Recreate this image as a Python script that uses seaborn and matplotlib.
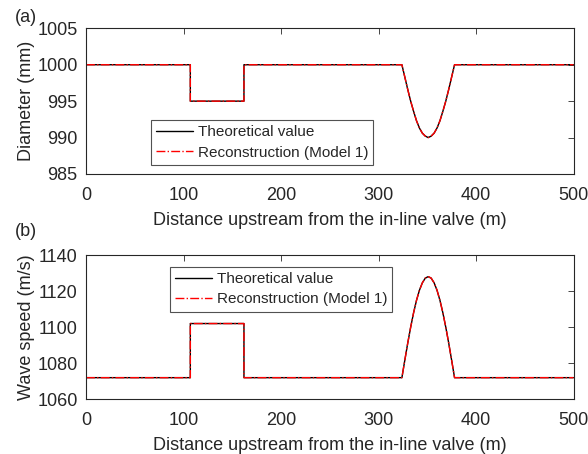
import numpy as np
import pandas as pd
import seaborn as sns
import matplotlib
matplotlib.use("Agg")
import matplotlib.pyplot as plt

sns.set_style("white")
plt.rcParams['font.family'] = ['Liberation Sans', 'DejaVu Sans']

# ---- data ----
distance = [0, 107, 107, 162, 162, 324, 327, 330, 333, 336, 339, 342, 345, 348, 351,
            354, 357, 360, 363, 366, 369, 372, 375, 378, 500]
diam_theory = [1000, 1000, 995, 995, 1000, 1000, 998.3, 996.6, 995.0, 993.6, 992.3, 991.3,
               990.6, 990.2, 990.0, 990.2, 990.6, 991.3, 992.3, 993.6, 995.0, 996.6,
               998.3, 1000, 1000]
diam_recon = [1000, 1000, 995, 995, 1000, 1000, 998.3, 996.6, 995.0, 993.6, 992.3, 991.3,
              990.6, 990.2, 990.0, 990.2, 990.6, 991.3, 992.3, 993.6, 995.0, 996.6,
              998.3, 1000, 1000]
wave_theory = [1072, 1072, 1102, 1102, 1072, 1072, 1081.7, 1091.2, 1100.0, 1108.0, 1114.9,
               1120.5, 1124.6, 1127.2, 1128, 1127.2, 1124.6, 1120.5, 1114.9, 1108.0,
               1100.0, 1091.2, 1081.7, 1072, 1072]
wave_recon = [1072, 1072, 1102, 1102, 1072, 1072, 1081.7, 1091.2, 1100.0, 1108.0, 1114.9,
              1120.5, 1124.6, 1127.2, 1128, 1127.2, 1124.6, 1120.5, 1114.9, 1108.0,
              1100.0, 1091.2, 1081.7, 1072, 1072]

x_ticks = [0, 100, 200, 300, 400, 500]
diam_ticks = [985, 990, 995, 1000, 1005]
wave_ticks = [1060, 1080, 1100, 1120, 1140]
labels = ["Theoretical value", "Reconstruction (Model 1)"]
xlabel = "Distance upstream from the in-line valve (m)"

W, H = 588, 454
fig = plt.figure(figsize=(W / 100, H / 100), dpi=100)
ax1 = fig.add_axes([86 / W, 1 - 174 / H, (573.5 - 86) / W, (174 - 28.3) / H])
ax2 = fig.add_axes([86 / W, 1 - 399.3 / H, (573.5 - 86) / W, (399.3 - 255) / H])

axc = '#262626'
fs = 13

def style(ax, yticks, ylabel):
    ax.set_xlim(0, 500)
    ax.set_ylim(yticks[0], yticks[-1])
    ax.set_xticks(x_ticks)
    ax.set_yticks(yticks)
    ax.tick_params(direction='in', length=4, width=0.6, colors=axc, labelsize=fs,
                   top=True, right=True)
    ax.tick_params(axis='x', pad=9)
    ax.tick_params(axis='y', pad=6)
    for t in ax.get_xticklabels() + ax.get_yticklabels():
        t.set_color(axc)
    for s in ax.spines.values():
        s.set_color(axc)
        s.set_linewidth(0.8)
    ax.set_xlabel(xlabel, fontsize=fs, color=axc, labelpad=6)
    ax.set_ylabel(ylabel, fontsize=fs, color=axc, labelpad=1.5)

sns.lineplot(x=distance, y=diam_theory, ax=ax1, color='black', lw=1.0,
             estimator=None, sort=False, label=labels[0])
sns.lineplot(x=distance, y=diam_recon, ax=ax1, color='red', lw=1.0,
             estimator=None, sort=False, label=labels[1], linestyle='-.')
sns.lineplot(x=distance, y=wave_theory, ax=ax2, color='black', lw=1.0,
             estimator=None, sort=False, label=labels[0])
sns.lineplot(x=distance, y=wave_recon, ax=ax2, color='red', lw=1.0,
             estimator=None, sort=False, label=labels[1], linestyle='-.')

style(ax1, diam_ticks, "Diameter (mm)")
style(ax2, wave_ticks, "Wave speed (m/s)")

for ax, loc in [(ax1, (151 / W, 1 - 165 / H)), (ax2, (170 / W, 1 - 311.7 / H))]:
    leg = ax.legend(loc='lower left', bbox_to_anchor=loc, bbox_transform=fig.transFigure,
                    fontsize=11, frameon=True, fancybox=False, handlelength=2.4,
                    borderpad=0.35, labelspacing=0.42, handletextpad=0.3, borderaxespad=0)
    leg.get_frame().set_edgecolor(axc)
    leg.get_frame().set_linewidth(0.8)
    for t in leg.get_texts():
        t.set_color(axc)

fig.text(15 / W, 1 - 18 / H, "(a)", fontsize=fs, color=axc, va='center', ha='left')
fig.text(15 / W, 1 - 232 / H, "(b)", fontsize=fs, color=axc, va='center', ha='left')

fig.savefig("out.png", dpi=100)
